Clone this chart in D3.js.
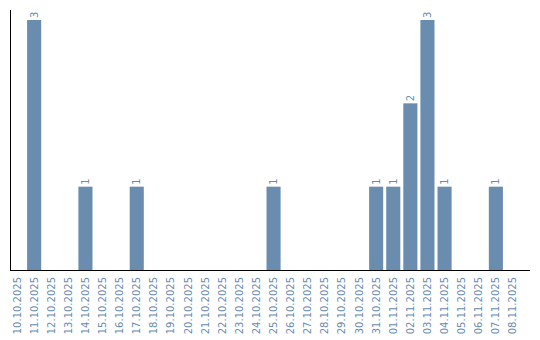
<!DOCTYPE html>
<html>
<head>
<meta charset="utf-8">
<script src="https://cdn.jsdelivr.net/npm/d3@7"></script>
<style>
  body { margin: 0; background: #fff; }
  svg { display: block; font-family: "DejaVu Sans", sans-serif; }
</style>
</head>
<body>
<div id="chart"></div>
<script>
// Days shown on the x axis
const days = [
  '10.10.2025', '11.10.2025', '12.10.2025', '13.10.2025', '14.10.2025',
  '15.10.2025', '16.10.2025', '17.10.2025', '18.10.2025', '19.10.2025',
  '20.10.2025', '21.10.2025', '22.10.2025', '23.10.2025', '24.10.2025',
  '25.10.2025', '26.10.2025', '27.10.2025', '28.10.2025', '29.10.2025',
  '30.10.2025', '31.10.2025', '01.11.2025', '02.11.2025', '03.11.2025',
  '04.11.2025', '05.11.2025', '06.11.2025', '07.11.2025', '08.11.2025'
];
// Count per day
const counts = [0, 3, 0, 0, 1, 0, 0, 1, 0, 0, 0, 0, 0, 0, 0, 1, 0, 0, 0, 0, 0, 1, 1, 2, 3, 1, 0, 0, 1, 0];

(function () {
  const W = 540, H = 340;
  const m = { left: 10, right: 530, top: 20, bottom: 270 };
  const color = '#6a8caf';

  const svg = d3.select('#chart').append('svg')
    .attr('width', W)
    .attr('height', H);

  const data = days.map((d, i) => ({ day: d, value: counts[i] }));

  const x = d3.scaleBand()
    .domain(days)
    .range([m.left, m.left + days.length * 17])
    .paddingInner(3 / 17)
    .paddingOuter(0)
    .align(0);

  const y = d3.scaleLinear()
    .domain([0, d3.max(counts)])
    .range([m.bottom, m.top]);

  // Bars
  svg.selectAll('.bar')
    .data(data.filter((d) => d.value > 0))
    .enter()
    .append('rect')
    .attr('class', 'bar')
    .attr('x', (d) => x(d.day))
    .attr('y', (d) => y(d.value))
    .attr('width', x.bandwidth())
    .attr('height', (d) => m.bottom - y(d.value))
    .attr('fill', color);

  // Value labels (rotated)
  svg.selectAll('.val')
    .data(data.filter((d) => d.value > 0))
    .enter()
    .append('text')
    .attr('class', 'val')
    .attr('transform', (d) => `translate(${x(d.day) + x.bandwidth() / 2 + 3.5},${y(d.value) - 2}) rotate(-90)`)
    .attr('font-size', 10)
    .attr('fill', color)
    .text((d) => d.value);

  // Axis lines
  svg.append('line')
    .attr('x1', m.left + 0.5).attr('x2', m.left + 0.5)
    .attr('y1', 10).attr('y2', m.bottom)
    .attr('stroke', '#000');

  svg.append('line')
    .attr('x1', m.left).attr('x2', m.right)
    .attr('y1', m.bottom + 0.5).attr('y2', m.bottom + 0.5)
    .attr('stroke', '#000');

  // Tick labels
  svg.selectAll('.tick-label')
    .data(days)
    .enter()
    .append('text')
    .attr('class', 'tick-label')
    .attr('transform', (d) => `translate(${x(d) + x.bandwidth() / 2 + 3.5},${m.bottom + 7}) rotate(-90)`)
    .attr('text-anchor', 'end')
    .attr('font-size', 10)
    .attr('fill', color)
    .text((d) => d);
})();
</script>
</body>
</html>
